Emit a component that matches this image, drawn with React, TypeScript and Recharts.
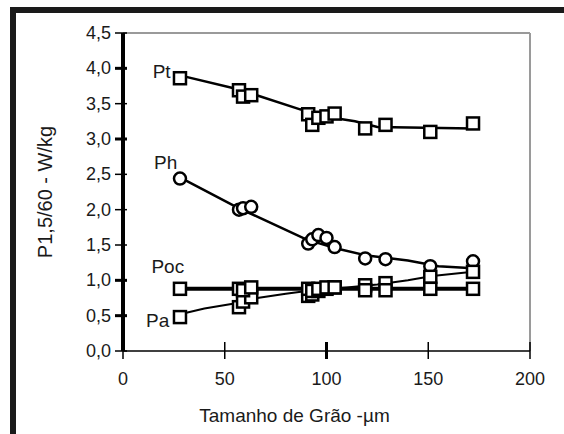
import React from 'react';
import {
  ComposedChart, Line, Scatter, XAxis, YAxis, ReferenceLine, ReferenceDot,
} from 'recharts';

// Grain sizes (µm) of the measured samples
const grain = [28, 57, 59, 63, 91, 93, 96, 100, 104, 119, 129, 151, 172];
// Measured losses (W/kg)
const ptValues = [3.86, 3.69, 3.6, 3.62, 3.35, 3.2, 3.3, 3.32, 3.36, 3.15, 3.2, 3.1, 3.22];
const phValues = [2.44, 2.0, 2.02, 2.04, 1.52, 1.58, 1.64, 1.6, 1.47, 1.31, 1.3, 1.2, 1.27];
const pocValues = [0.88, 0.88, 0.86, 0.9, 0.88, 0.85, 0.88, 0.9, 0.9, 0.86, 0.86, 0.88, 0.88];
const paValues = [0.48, 0.62, 0.7, 0.76, 0.78, 0.8, 0.85, 0.88, 0.9, 0.93, 0.96, 1.05, 1.12];

// Trend lines as drawn in the figure
const ptCurveX = [28, 57, 87, 103, 114, 125, 172];
const ptCurveY = [3.9, 3.7, 3.42, 3.3, 3.25, 3.17, 3.15];
const phCurveX = [27, 57, 90, 105, 120, 140, 155, 172];
const phCurveY = [2.47, 2.02, 1.58, 1.45, 1.35, 1.28, 1.2, 1.17];
const pocCurveX = [28, 172];
const pocCurveY = [0.88, 0.88];
const paCurveX = [28, 40, 54, 66, 80, 93, 110, 125, 140, 152, 172];
const paCurveY = [0.52, 0.6, 0.67, 0.75, 0.81, 0.86, 0.9, 0.94, 1.0, 1.06, 1.12];

const xTicks = [0, 50, 100, 150, 200];
const yTicks = [0, 0.5, 1, 1.5, 2, 2.5, 3, 3.5, 4, 4.5];

const seriesLabels = [
  { name: 'Pt', x: 19, y: 3.96 },
  { name: 'Ph', x: 21, y: 2.67 },
  { name: 'Poc', x: 22, y: 1.2 },
  { name: 'Pa', x: 17, y: 0.44 },
];

const zip = (xs: number[], ys: number[]) => xs.map((x, i) => ({ x, y: ys[i] }));

const FONT = '"Liberation Sans", Arial, sans-serif';

const Square = (props: any) => {
  const { cx, cy } = props;
  if (cx == null || cy == null) return null;
  return <rect x={cx - 6} y={cy - 6} width={12} height={12} fill="#fff" stroke="#000" strokeWidth={2.5} />;
};
const Circle = (props: any) => {
  const { cx, cy } = props;
  if (cx == null || cy == null) return null;
  return <circle cx={cx} cy={cy} r={6} fill="#fff" stroke="#000" strokeWidth={2.5} />;
};

const XTick = (props: any) => {
  const { x, y, payload } = props;
  const heavy = payload.value === 100;
  return (
    <g>
      <line x1={x} x2={x} y1={y - 9} y2={y + 8} stroke="#000" strokeWidth={heavy ? 3 : 1.5} />
      <text x={x} y={y + 34} textAnchor="middle" fontSize={18} fontFamily={FONT} fill="#1a1a1a">
        {payload.value}
      </text>
    </g>
  );
};

const YTick = (props: any) => {
  const { x, y, payload } = props;
  const heavy = [4, 3, 1, 0.5].includes(payload.value);
  return (
    <g>
      <line x1={x - 8} x2={x + 4} y1={y} y2={y} stroke="#000" strokeWidth={heavy ? 3 : 1.5} />
      <text x={x - 12} y={y + 6} textAnchor="end" fontSize={18} fontFamily={FONT} fill="#1a1a1a">
        {payload.value.toFixed(1).replace('.', ',')}
      </text>
    </g>
  );
};

export default function App() {
  return (
    <div style={{ position: 'relative', width: 564, height: 434, background: '#fff', overflow: 'hidden' }}>
      <style>{'body{margin:0}'}</style>
      <ComposedChart
        width={564}
        height={434}
        margin={{ top: 33, right: 34, bottom: 0, left: 0 }}
      >
        <XAxis
          type="number"
          dataKey="x"
          domain={[0, 200]}
          ticks={xTicks}
          height={83}
          tickSize={0}
          tickMargin={0}
          tickLine={false}
          tick={<XTick />}
          axisLine={{ stroke: '#000', strokeWidth: 1.5 }}
          allowDataOverflow
          label={{
            value: 'Tamanho de Grão -µm',
            position: 'insideBottom',
            offset: 12,
            dx: -32,
            style: { fontSize: 19, fontFamily: FONT, fill: '#1a1a1a' },
          }}
        />
        <YAxis
          type="number"
          dataKey="y"
          domain={[0, 4.5]}
          ticks={yTicks}
          width={123}
          tickSize={0}
          tickMargin={0}
          tickLine={false}
          tick={<YTick />}
          axisLine={{ stroke: '#000', strokeWidth: 4 }}
          allowDataOverflow
          label={{
            value: 'P1,5/60 - W/kg',
            angle: -90,
            position: 'insideLeft',
            offset: 45,
            style: { textAnchor: 'middle', fontSize: 20, fontFamily: FONT, fill: '#1a1a1a' },
          }}
        />
        <ReferenceLine y={4.5} stroke="#9a9a9a" strokeWidth={2} />
        <ReferenceLine x={200} stroke="#9a9a9a" strokeWidth={2} />

        <Line data={zip(ptCurveX, ptCurveY)} dataKey="y" stroke="#000" strokeWidth={2.5} dot={false} isAnimationActive={false} />
        <Line data={zip(phCurveX, phCurveY)} dataKey="y" stroke="#000" strokeWidth={2.5} dot={false} isAnimationActive={false} />
        <Line data={zip(paCurveX, paCurveY)} dataKey="y" stroke="#000" strokeWidth={2} dot={false} isAnimationActive={false} />
        <Line data={zip(pocCurveX, pocCurveY)} dataKey="y" stroke="#000" strokeWidth={4} dot={false} isAnimationActive={false} />

        <Scatter data={zip(grain, ptValues)} dataKey="y" shape={<Square />} isAnimationActive={false} />
        <Scatter data={zip(grain, phValues)} dataKey="y" shape={<Circle />} isAnimationActive={false} />
        <Scatter data={zip(grain, paValues)} dataKey="y" shape={<Square />} isAnimationActive={false} />
        <Scatter data={zip(grain, pocValues)} dataKey="y" shape={<Square />} isAnimationActive={false} />

        {seriesLabels.map((l) => (
          <ReferenceDot
            key={l.name}
            x={l.x}
            y={l.y}
            r={0}
            stroke="none"
            fill="none"
            label={{ value: l.name, position: 'center', style: { fontSize: 19, fontFamily: FONT, fill: '#1a1a1a' } }}
          />
        ))}
      </ComposedChart>
      <div style={{ position: 'absolute', left: 10, top: 7, width: 554, height: 6, background: '#1a1a1a' }} />
      <div style={{ position: 'absolute', left: 10, top: 7, width: 6, height: 427, background: '#1a1a1a' }} />
    </div>
  );
}
